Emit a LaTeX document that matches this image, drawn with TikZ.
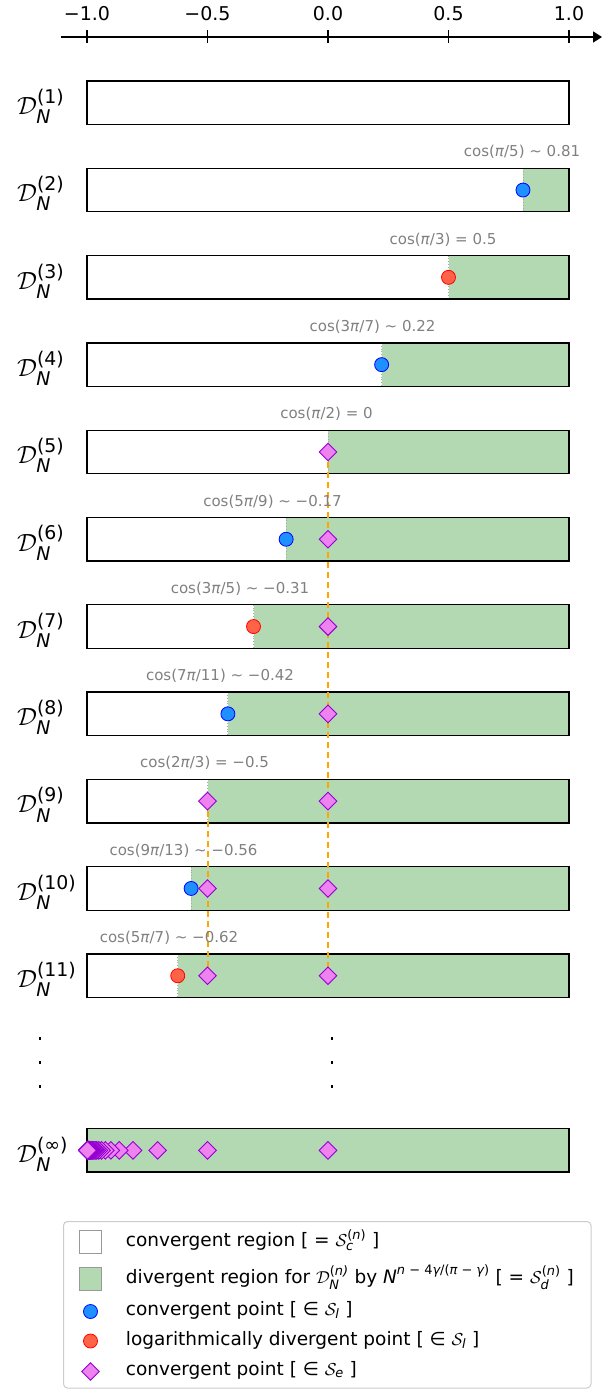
\documentclass[tikz,border=0pt]{standalone}
\usepackage{amsmath}
\usepackage{fontspec}
\setmainfont{DejaVu Sans}
\usepackage{tikz}
\usetikzlibrary{arrows.meta,shapes.geometric}

\definecolor{divgreen}{HTML}{B3D9B3}
\definecolor{cpblue}{HTML}{1E90FF}
\definecolor{ldred}{HTML}{FF6347}
\definecolor{epfill}{HTML}{EE82EE}
\definecolor{epedge}{HTML}{9400D3}
\definecolor{guide}{HTML}{FFA500}

\newcommand{\cD}[1]{$\mathcal{D}_{\text{\itshape N}}^{\text{(#1)}}$}

\tikzset{
  convpt/.style={circle, draw=blue, fill=cpblue, line width=0.8pt, inner sep=0pt, minimum size=14pt},
  logpt/.style={circle, draw=red, fill=ldred, line width=0.8pt, inner sep=0pt, minimum size=14pt},
  expt/.style={diamond, draw=epedge, fill=epfill, line width=0.9pt, inner sep=0pt, minimum width=18pt, minimum height=18pt},
  coslab/.style={anchor=base, text=gray, inner sep=0pt, font=\fontsize{15}{18}\selectfont},
  rowlab/.style={anchor=base west, inner sep=0pt, font=\fontsize{27}{32}\selectfont},
  legtext/.style={anchor=base west, inner sep=0pt, font=\fontsize{18.5}{22}\selectfont},
  barframe/.style={draw=black, line width=1.3pt},
  boundary/.style={draw=black!35, dotted, line width=0.8pt},
  guideline/.style={draw=guide, line width=2pt, dash pattern=on 6pt off 4pt}
}

\begin{document}
\begin{tikzpicture}[x=1pt, y=-1pt]
  \useasboundingbox (0,0) rectangle (602,1389);

  % Axis
  \coordinate (axl) at (61,37);
  \coordinate (axr) at (602,37);
  \draw[line width=1.5pt, -{Triangle[length=9pt, width=11pt]}] (axl) -- (axr);
  \foreach \t/\lab [count=\i] in {-1/{−1.0}, -0.5/{−0.5}, 0/{0.0}, 0.5/{0.5}, 1/{1.0}} {
    \draw[line width=1.2pt] (328+241*\t,30.5) -- (328+241*\t,43.5);
    \node[anchor=base, inner sep=0pt, font=\fontsize{19}{22}\selectfont] (tick\i) at (328+241*\t,21) {\lab};
  }

  % Bars
  \foreach \n in {1,...,11} {
    \pgfmathsetmacro\yt{81+87.3*(\n-1)}
    \pgfmathsetmacro\xt{328+241*cos(180*(\n-1)/(\n+3))}
    \fill[divgreen] (\xt,\yt) rectangle (569,\yt+43.5);
    \draw[boundary] (\xt,\yt) -- (\xt,\yt+43.5);
    \draw[barframe] (87,\yt) rectangle (569,\yt+43.5);
    \node[rowlab] (lab\n) at (17,\yt+33.5) {\cD{\n}};
  }
  \fill[divgreen] (87,1128.6) rectangle (569,1172.1);
  \draw[barframe] (87,1128.6) rectangle (569,1172.1);
  \node[rowlab] (labinf) at (17,1162.1) {\cD{∞}};

  % Dots
  \foreach \xd in {40,332}
    \foreach \yd in {1038,1062,1086}
      \fill (\xd-1,\yd-1.5) rectangle (\xd+1,\yd+1.5);

  % Guide lines
  \coordinate (zs) at (328,451.95);
  \coordinate (ze) at (328,975.75);
  \coordinate (hs) at (207.5,801.15);
  \coordinate (he) at (207.5,975.75);
  \draw[guideline] (zs) -- (ze);
  \draw[guideline] (hs) -- (he);

  % Points and labels
  \foreach \n/\kind/\lx/\txt in {
      2/convpt/522/{cos(\textit{π}/5) ∼ 0.81},
      3/logpt/443/{cos(\textit{π}/3) = 0.5},
      4/convpt/372.5/{cos(3\textit{π}/7) ∼ 0.22},
      5/expt/326.5/{cos(\textit{π}/2) = 0},
      6/convpt/272.5/{cos(5\textit{π}/9) ∼ −0.17},
      7/logpt/240/{cos(3\textit{π}/5) ∼ −0.31},
      8/convpt/220/{cos(7\textit{π}/11) ∼ −0.42},
      9/expt/204.5/{cos(2\textit{π}/3) = −0.5},
      10/convpt/183.5/{cos(9\textit{π}/13) ∼ −0.56},
      11/logpt/169/{cos(5\textit{π}/7) ∼ −0.62}} {
    \pgfmathsetmacro\yt{81+87.3*(\n-1)}
    \pgfmathsetmacro\xt{328+241*cos(180*(\n-1)/(\n+3))}
    \node[coslab] (c\n) at (\lx,\yt-11.5) {\txt};
    \node[\kind] (p\n) at (\xt,\yt+21.75) {};
  }
  \foreach \n in {6,...,11}
    \node[expt] (z\n) at (328,{102.75+87.3*(\n-1)}) {};
  \foreach \n in {10,11}
    \node[expt] (h\n) at (207.5,{102.75+87.3*(\n-1)}) {};
  \foreach \m in {1,...,50}
    \node[expt] (inf\m) at ({328+241*cos(180*\m/(\m+1))},1150.35) {};

  % Legend
  \draw[draw=black!20, line width=1pt, rounded corners=4pt, fill=white] (63.5,1221.5) rectangle (591,1388);
  \draw[draw=black!40, fill=white] (79,1230) rectangle (101.5,1253);
  \draw[draw=black!40, fill=divgreen] (79,1267) rectangle (101.5,1290);
  \node[convpt] (lp1) at (90.5,1311.5) {};
  \node[logpt] (lp2) at (90.5,1341) {};
  \node[expt] (lp3) at (90.5,1371.5) {};
  \node[legtext] (leg1) at (125.7,1246.7) {convergent region [ = $\mathcal{S}_{\text{\itshape c}}^{\text{(\itshape n\upshape)}}$ ]};
  \node[legtext] (leg2) at (125.7,1283.3) {divergent region for \cD{\itshape n} by $\text{\itshape N}^{\text{\itshape n\upshape\ − 4\itshape γ\upshape/(\itshape π\upshape\ − \itshape γ\upshape)}}$ [ = $\mathcal{S}_{\text{\itshape d}}^{\text{(\itshape n\upshape)}}$ ]};
  \node[legtext] (leg3) at (125.7,1315) {convergent point [ ∈ $\mathcal{S}_{\text{\itshape l}}$ ]};
  \node[legtext] (leg4) at (125.7,1345) {logarithmically divergent point [ ∈ $\mathcal{S}_{\text{\itshape l}}$ ]};
  \node[legtext] (leg5) at (125.7,1375) {convergent point [ ∈ $\mathcal{S}_{\text{\itshape e}}$ ]};
\end{tikzpicture}
\end{document}
